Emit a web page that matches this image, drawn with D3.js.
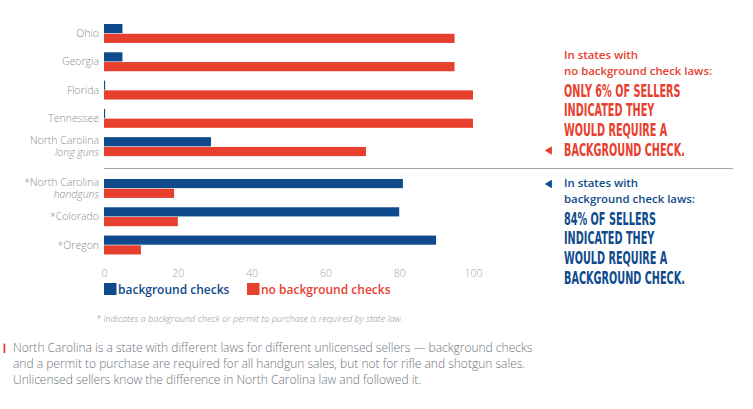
<!DOCTYPE html>
<html>
<head>
<meta charset="utf-8">
<script src="https://cdn.jsdelivr.net/npm/d3@7"></script>
<style>
  body { margin: 0; background: #fff; }
  text { font-family: "Open Sans", "Noto Sans", sans-serif; }
</style>
</head>
<body>
<div id="chart"></div>
<script>

const states = ["Ohio", "Georgia", "Florida", "Tennessee", "North Carolina|long guns",
                "*North Carolina|handguns", "*Colorado", "*Oregon"];
const lawStates = ["*North Carolina|handguns", "*Colorado", "*Oregon"];
const bgChecks   = [5, 5, 0.3, 0.3, 29, 81, 80, 90];
const noBgChecks = [95, 95, 100, 100, 71, 19, 20, 10];
const xTicks = [0, 20, 40, 60, 80, 100];
const seriesNames = ["background checks", "no background checks"];

const redNotes  = ["In states with", "no background check laws:"];
const redCaps   = ["ONLY 6% OF SELLERS", "INDICATED THEY", "WOULD REQUIRE A", "BACKGROUND CHECK."];
const blueNotes = ["In states with", "background check laws:"];
const blueCaps  = ["84% OF SELLERS", "INDICATED THEY", "WOULD REQUIRE A", "BACKGROUND CHECK."];
const footnote = "* Indicates a background check or permit to purchase is required by state law.";
const paragraph = [
    "North Carolina is a state with different laws for different unlicensed sellers \u2014 background checks",
    "and a permit to purchase are required for all handgun sales, but not for rifle and shotgun sales.",
    "Unlicensed sellers know the difference in North Carolina law and followed it."
];

const WIDTH = 753, HEIGHT = 409;
const BLUE = "#0f4b8c", RED = "#e8402f", GRAY = "#8a8e95";
const SECTION_GAP = 13.5;

const data = states.map((s, i) => ({ state: s, values: [bgChecks[i], noBgChecks[i]] }));

const svg = d3.select("#chart").append("svg")
    .attr("width", WIDTH)
    .attr("height", HEIGHT);

const x = d3.scaleLinear().domain([0, 100]).range([104, 473]);

const y = d3.scaleBand()
    .domain(states)
    .range([24, 241])
    .paddingInner(0.33)
    .paddingOuter(0);

const ySub = d3.scaleBand()
    .domain([0, 1])
    .range([0, y.bandwidth()])
    .paddingInner(0.06);

const color = d3.scaleOrdinal().domain([0, 1]).range([BLUE, RED]);

const groupY = s => y(s) + (lawStates.includes(s) ? SECTION_GAP : 0);

// bars
const groups = svg.selectAll(".group")
    .data(data)
    .enter().append("g")
    .attr("class", "group")
    .attr("transform", d => `translate(0, ${groupY(d.state)})`);

groups.selectAll("rect")
    .data(d => d.values)
    .enter().append("rect")
    .attr("x", x(0))
    .attr("y", (v, i) => ySub(i))
    .attr("width", v => x(v) - x(0))
    .attr("height", ySub.bandwidth())
    .attr("fill", (v, i) => color(i));

// state labels
groups.each(function(d) {
    const parts = d.state.split("|");
    const mid = y.bandwidth() / 2;
    const g = d3.select(this);
    if (parts.length === 1) {
        g.append("text")
            .attr("x", x(0) - 5)
            .attr("y", mid + 3.5)
            .attr("text-anchor", "end")
            .attr("font-size", "10.5px")
            .attr("font-weight", 300)
            .attr("fill", GRAY)
            .text(parts[0]);
    } else {
        g.append("text")
            .attr("x", x(0) - 5)
            .attr("y", mid - 2.5)
            .attr("text-anchor", "end")
            .attr("font-size", "10.5px")
            .attr("font-weight", 300)
            .attr("fill", GRAY)
            .text(parts[0]);
        g.append("text")
            .attr("x", x(0) - 5)
            .attr("y", mid + 9.5)
            .attr("text-anchor", "end")
            .attr("font-size", "10.5px")
            .attr("font-weight", 300)
            .attr("font-style", "italic")
            .attr("fill", GRAY)
            .text(parts[1]);
    }
});

// separator line
const lastNoLaw = states[states.indexOf(lawStates[0]) - 1];
const sepY = Math.round((groupY(lastNoLaw) + y.bandwidth() + groupY(lawStates[0])) / 2) + 0.5;
svg.append("line")
    .attr("x1", x(0))
    .attr("x2", 733)
    .attr("y1", sepY)
    .attr("y2", sepY)
    .attr("stroke", "#a5a5a5")
    .attr("stroke-width", 1);

// x axis (labels only)
const xAxis = d3.axisBottom(x)
    .tickValues(xTicks)
    .tickSize(0)
    .tickPadding(0);

const axisG = svg.append("g")
    .attr("transform", "translate(0, 270)")
    .call(xAxis);
axisG.select(".domain").remove();
axisG.selectAll("text")
    .attr("dy", "0.71em")
    .attr("fill", "#a0a3a8")
    .attr("font-size", "10.5px")
    .attr("font-weight", 300)
    .style("font-family", "'Open Sans', sans-serif");

// legend
const legend = svg.append("g").attr("transform", "translate(104, 283)");
const legendX = [0, 143];
seriesNames.forEach((name, i) => {
    legend.append("rect")
        .attr("x", legendX[i])
        .attr("y", 0)
        .attr("width", 12.5)
        .attr("height", 12)
        .attr("fill", color(i));
    legend.append("text")
        .attr("x", legendX[i] + 14)
        .attr("y", 10.5)
        .attr("font-size", "12px")
        .attr("font-weight", 600)
        .attr("fill", color(i))
        .text(name);
});

// footnote
svg.append("text")
    .attr("x", 96)
    .attr("y", 322)
    .attr("font-size", "9.1px")
    .attr("font-style", "italic")
    .attr("font-weight", 300)
    .attr("fill", "#8f9398")
    .text(footnote);

// bottom paragraph
svg.append("rect")
    .attr("x", 3.5)
    .attr("y", 343.5)
    .attr("width", 1.8)
    .attr("height", 9.5)
    .attr("fill", RED);

svg.append("g").selectAll("text")
    .data(paragraph)
    .enter().append("text")
    .attr("x", 13)
    .attr("y", (d, i) => 352.3 + i * 15.6)
    .attr("font-size", "12px")
    .attr("font-weight", 300)
    .attr("fill", "#6f737a")
    .text(d => d);

// right-hand notes
function note(top, notes, caps, col, arrowY) {
    const g = svg.append("g");
    notes.forEach((t, i) => {
        g.append("text")
            .attr("x", 564)
            .attr("y", top + i * 15.7)
            .attr("font-size", "11.4px")
            .attr("font-weight", 600)
            .attr("fill", col)
            .text(t);
    });
    const capsG = g.append("g").attr("transform", `translate(564, ${top + 37.5})`);
    const texts = capsG.selectAll("text")
        .data(caps)
        .enter().append("text")
        .attr("x", 0)
        .attr("y", (d, i) => i * 19.7)
        .attr("font-size", "17px")
        .attr("font-weight", 700)
        .style("font-family", "'Liberation Sans Narrow', 'DejaVu Sans Condensed', 'Roboto', sans-serif")
        .style("font-stretch", "condensed")
        .attr("fill", col)
        .text(d => d);
    // squeeze to condensed look: widest line ~121px
    const widest = d3.max(texts.nodes(), n => n.getComputedTextLength());
    const k = 121 / widest;
    texts.attr("transform", `scale(${k}, 1)`);
    // arrow
    svg.append("path")
        .attr("d", d3.symbol().type(d3.symbolTriangle).size(30))
        .attr("transform", `translate(549.5, ${arrowY}) rotate(-90)`)
        .attr("fill", col);
}

note(59.3, redNotes, redCaps, RED, 150.5);
note(187.3, blueNotes, blueCaps, BLUE, 184);

</script>
</body>
</html>
